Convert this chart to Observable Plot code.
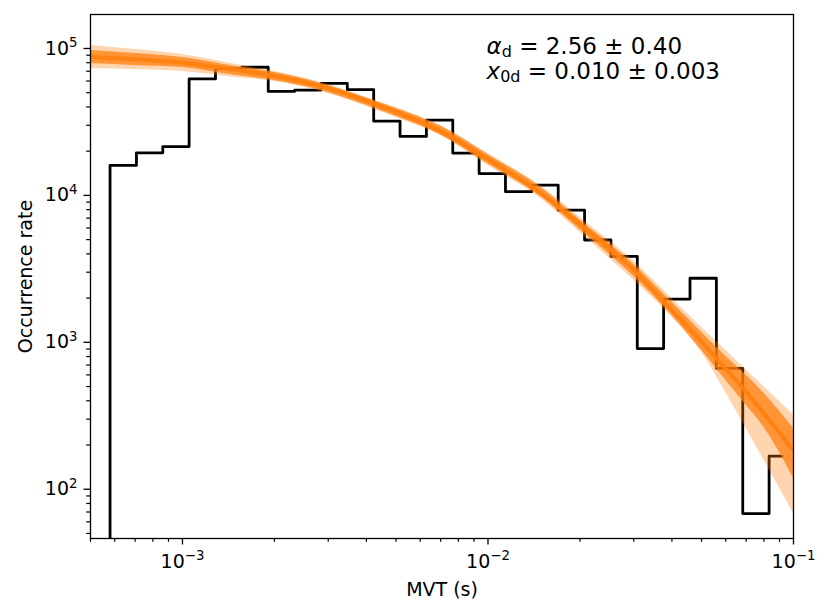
<!DOCTYPE html>
<html><head><meta charset="utf-8">
<script src="https://cdn.jsdelivr.net/npm/d3@7"></script>
<script src="https://cdn.jsdelivr.net/npm/@observablehq/plot@0.6"></script>
<style>
html,body{margin:0;padding:0;background:#fff;overflow:hidden}
</style></head><body><div id="chart"></div>
<script>
// Histogram (step, mid) — bin centres (s) and occurrence rates
const binCenters = [5.245e-4, 6.400e-4, 7.806e-4, 9.522e-4, 1.161e-3, 1.417e-3, 1.728e-3, 2.108e-3,
  2.571e-3, 3.136e-3, 3.826e-3, 4.667e-3, 5.693e-3, 6.944e-3, 8.469e-3, 1.033e-2, 1.260e-2,
  1.537e-2, 1.875e-2, 2.287e-2, 2.790e-2, 3.402e-2, 4.150e-2, 5.063e-2, 6.176e-2, 7.534e-2, 9.190e-2];
// first bin is empty (drawn below the axis)
const counts = [1, 16000, 19500, 21500, 62000, 73000, 74500, 51000, 52000, 57800, 52400, 32000,
  25200, 32500, 19400, 14050, 10600, 11750, 7950, 4970, 3850, 906, 1970, 2730, 665, 68.3, 168];

// Fitted-model posterior curves
const fitX = [5e-4, 7e-4, 1e-3, 1.5e-3, 2e-3, 3e-3, 4e-3, 5e-3, 7e-3, 1e-2, 1.5e-2, 2e-2, 3e-2, 4e-2, 5e-2, 6e-2, 7e-2, 8e-2, 1e-1];
const fitMedian = [87500, 84500, 80000, 71500, 65000, 53500, 44000, 37000, 27300, 17600, 10200, 6350, 3100, 1650, 1010, 660, 460, 327, 184];
const fitCoreHi = [96900, 92500, 86900, 75500, 68700, 56000, 46100, 39100, 29500, 18900, 11200, 6800, 3390, 1870, 1170, 803, 596, 450, 260];
const fitCoreLo = [79100, 76600, 74300, 65500, 60600, 50200, 41000, 34500, 25800, 16400, 9700, 5830, 2810, 1530, 882, 551, 373, 264, 119];
const fitOuterHi = [104800, 98400, 91000, 77900, 69800, 56900, 46400, 39700, 29900, 19300, 11500, 7090, 3560, 1990, 1265, 882, 648, 500, 320];
const fitOuterLo = [73100, 72000, 69800, 63500, 59600, 49400, 40300, 33900, 25600, 16000, 9390, 5600, 2640, 1480, 855, 455, 259, 158, 68.3];

// Axis ticks
const xMajorTicks = [1e-3, 1e-2, 1e-1];
const xMinorTicks = [5e-4, 6e-4, 7e-4, 8e-4, 9e-4, 2e-3, 3e-3, 4e-3, 5e-3, 6e-3, 7e-3, 8e-3, 9e-3,
  2e-2, 3e-2, 4e-2, 5e-2, 6e-2, 7e-2, 8e-2, 9e-2];
const yMajorTicks = [1e2, 1e3, 1e4, 1e5];
const yMinorTicks = [50, 60, 70, 80, 90, 200, 300, 400, 500, 600, 700, 800, 900,
  2000, 3000, 4000, 5000, 6000, 7000, 8000, 9000, 20000, 30000, 40000, 50000, 60000, 70000, 80000, 90000];

// Texts
const xLabel = "MVT (s)";
const yLabel = "Occurrence rate";
const alphaD = "2.56", alphaDErr = "0.40";
const x0D = "0.010", x0DErr = "0.003";

const hist = binCenters.map((x, i) => ({x, y: counts[i]}));
const fit = fitX.map((x, i) => ({x, mid: fitMedian[i], cHi: fitCoreHi[i], cLo: fitCoreLo[i], oHi: fitOuterHi[i], oLo: fitOuterLo[i]}));

const orange = "#ff7f0e";
const supFmt = d => "10|" + Math.round(Math.log10(d));

const svg = Plot.plot({
  width: 831, height: 614,
  marginLeft: 90, marginRight: 38, marginTop: 14, marginBottom: 76,
  style: {fontFamily: "DejaVu Sans", fontSize: "18px", color: "black", background: "white"},
  x: {type: "log", domain: [5e-4, 0.1]},
  y: {type: "log", domain: [46.2, 170300]},
  marks: [
    Plot.line(hist, {x: "x", y: "y", curve: "step", stroke: "black", strokeWidth: 2.8, clip: true}),
    Plot.areaY(fit, {x: "x", y1: "oLo", y2: "oHi", fill: orange, fillOpacity: 0.33, curve: "monotone-x", clip: true}),
    Plot.areaY(fit, {x: "x", y1: "cLo", y2: "cHi", fill: orange, fillOpacity: 0.75, curve: "monotone-x", clip: true}),
    Plot.line(fit, {x: "x", y: "mid", stroke: orange, strokeWidth: 4, strokeOpacity: 0.95, curve: "monotone-x", clip: true}),
    Plot.axisX({ticks: xMinorTicks, tickSize: 3.8, tickFormat: () => "", label: null, strokeWidth: 1.2}),
    Plot.axisX({ticks: xMajorTicks, tickSize: 6.5, tickPadding: 9, tickFormat: supFmt, label: null, strokeWidth: 1.3, fontSize: 19}),
    Plot.axisY({ticks: yMinorTicks, tickSize: 3.8, tickFormat: () => "", label: null, strokeWidth: 1.2}),
    Plot.axisY({ticks: yMajorTicks, tickSize: 6.5, tickPadding: 6.5, tickFormat: supFmt, label: null, strokeWidth: 1.3, fontSize: 19}),
    Plot.frame({stroke: "black", strokeWidth: 1.3}),
    Plot.text([xLabel], {frameAnchor: "bottom", textAnchor: "middle", dy: 57, lineAnchor: "bottom", fontSize: 19, fill: "black"}),
    Plot.text([yLabel], {frameAnchor: "left", textAnchor: "middle", rotate: -90, dx: -58.5, lineAnchor: "bottom", fontSize: 19, fill: "black"})
  ]
});

// superscript exponents on tick labels
d3.select(svg).selectAll("text").each(function() {
  const m = /^10\|(-?\d+)$/.exec(this.textContent);
  if (m) {
    this.textContent = "10";
    const ts = document.createElementNS("http://www.w3.org/2000/svg", "tspan");
    ts.setAttribute("dy", "-7.6");
    ts.setAttribute("font-size", "13.3px");
    ts.textContent = m[1].replace("-", "\u2212");
    this.appendChild(ts);
  }
});

// annotation
const s = d3.select(svg);
function annot(y, sym, sub, val, err) {
  const t = s.append("text").attr("x", 486.5).attr("y", y).attr("text-anchor", "start")
    .attr("font-family", "DejaVu Sans").attr("font-size", 23).attr("fill", "black");
  t.append("tspan").attr("font-style", "italic").text(sym);
  t.append("tspan").attr("font-size", 16).attr("dy", 3.6).text(sub);
  t.append("tspan").attr("dy", -3.6).text(" = " + val + " \u00B1 " + err);
}
annot(53.5, "\u03B1", "d", alphaD, alphaDErr);
annot(78.5, "x", "0d", x0D, x0DErr);

document.getElementById("chart").appendChild(svg);
</script></body></html>
